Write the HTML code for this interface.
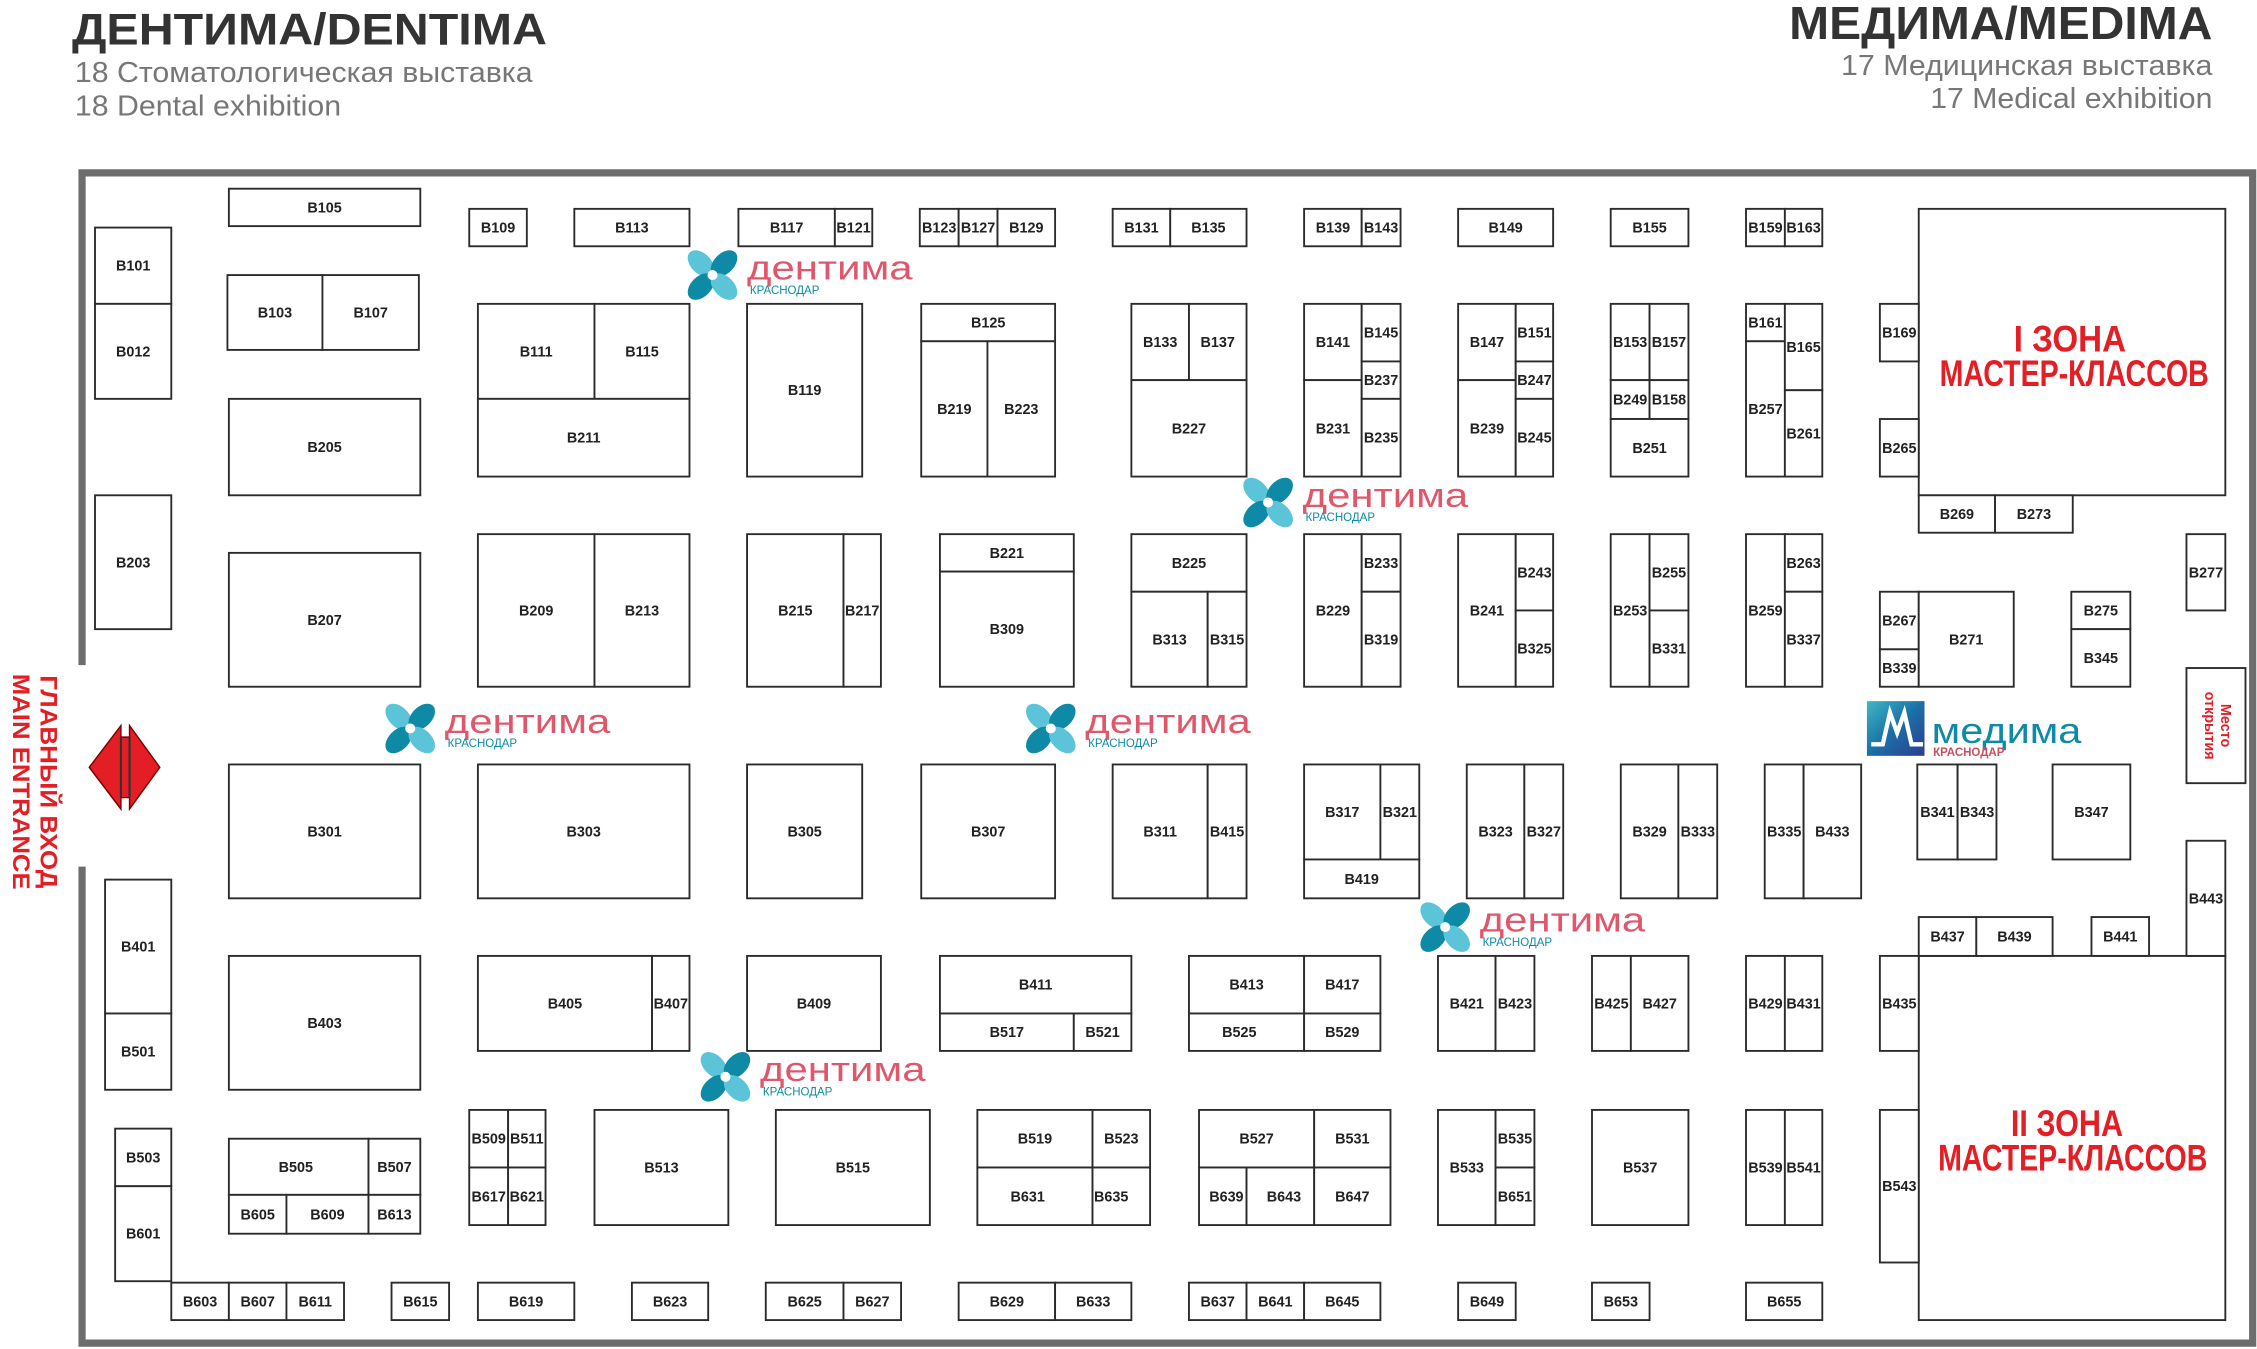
<!DOCTYPE html>
<html><head><meta charset="utf-8">
<style>
html,body{margin:0;padding:0;background:#fff;}
svg{display:block;}
.c rect{fill:#fff;stroke:#2b2b2b;stroke-width:1.3;}
.c text{font-family:"Liberation Sans",sans-serif;font-size:10px;font-weight:bold;fill:#222;text-anchor:middle;}
</style></head><body>
<svg width="2257" height="1349" viewBox="0 0 1568 937" xmlns="http://www.w3.org/2000/svg">
<defs>
<g id="fl">
<ellipse cx="-8" cy="-8" rx="7" ry="11" transform="rotate(-45 -8 -8)" fill="#5bc4d9"/>
<ellipse cx="8" cy="-8" rx="7" ry="11" transform="rotate(45 8 -8)" fill="#0e8aa6"/>
<ellipse cx="-8" cy="8" rx="7" ry="11" transform="rotate(45 -8 8)" fill="#0e8aa6"/>
<ellipse cx="8" cy="8" rx="7" ry="11" transform="rotate(-45 8 8)" fill="#5bc4d9"/>
<circle cx="0" cy="0" r="3.5" fill="#fff"/>
</g>
</defs>
<text x="50" y="31" font-family="Liberation Sans,sans-serif" font-size="31" font-weight="bold" fill="#333" textLength="330" lengthAdjust="spacingAndGlyphs">ДЕНТИМА/DENTIMA</text>
<text x="52" y="57" font-family="Liberation Sans,sans-serif" font-size="20" fill="#777" textLength="318" lengthAdjust="spacingAndGlyphs">18 Стоматологическая выставка</text>
<text x="52" y="80" font-family="Liberation Sans,sans-serif" font-size="20" fill="#777" textLength="185" lengthAdjust="spacingAndGlyphs">18 Dental exhibition</text>
<text x="1537" y="27" font-family="Liberation Sans,sans-serif" font-size="32" font-weight="bold" fill="#333" text-anchor="end" textLength="294" lengthAdjust="spacingAndGlyphs">МЕДИМА/MEDIMA</text>
<text x="1537" y="52" font-family="Liberation Sans,sans-serif" font-size="20" fill="#777" text-anchor="end" textLength="258" lengthAdjust="spacingAndGlyphs">17 Медицинская выставка</text>
<text x="1537" y="75" font-family="Liberation Sans,sans-serif" font-size="20" fill="#777" text-anchor="end" textLength="196" lengthAdjust="spacingAndGlyphs">17 Medical exhibition</text>

<path d="M57 462 V120 H1565 V933 H57 V602" fill="none" stroke="#6d6d6d" stroke-width="5"/>

<polygon points="62,533 84,504 84,512 90,512 90,504 111,533 90,562 90,554 84,554 84,562" fill="#e31e24" stroke="#7a0000" stroke-width="1"/>
<line x1="84" y1="512" x2="84" y2="554" stroke="#333" stroke-width="1.5"/>
<line x1="90" y1="512" x2="90" y2="554" stroke="#333" stroke-width="1.5"/>
<text transform="translate(28,543) rotate(90)" font-family="Liberation Sans,sans-serif" font-size="17" font-weight="bold" fill="#e31e24" text-anchor="middle" textLength="148" lengthAdjust="spacingAndGlyphs">ГЛАВНЫЙ ВХОД</text>
<text transform="translate(9,543) rotate(90)" font-family="Liberation Sans,sans-serif" font-size="17" font-weight="bold" fill="#e31e24" text-anchor="middle" textLength="150" lengthAdjust="spacingAndGlyphs">MAIN ENTRANCE</text>

<g class="c">
<rect x="1333" y="145" width="213" height="199"/>
<rect x="1333" y="664" width="213" height="253"/>
<rect x="1519" y="464" width="41" height="80"/>
</g>
<g font-family="Liberation Sans,sans-serif" font-weight="bold" fill="#e31e24" text-anchor="middle">
<text x="1438" y="244" font-size="26" textLength="78" lengthAdjust="spacingAndGlyphs">I  ЗОНА</text>
<text x="1441" y="268" font-size="26" textLength="187" lengthAdjust="spacingAndGlyphs">МАСТЕР-КЛАССОВ</text>
<text x="1436" y="789" font-size="26" textLength="78" lengthAdjust="spacingAndGlyphs">II  ЗОНА</text>
<text x="1440" y="813" font-size="26" textLength="187" lengthAdjust="spacingAndGlyphs">МАСТЕР-КЛАССОВ</text>
<text transform="translate(1543,504) rotate(90)" font-size="10">Место</text>
<text transform="translate(1532,504) rotate(90)" font-size="10">открытия</text>
</g>

<g class="c">
<rect x="159" y="131" width="133" height="26"/><text x="225.5" y="147.5">B105</text>
<rect x="326" y="145" width="40" height="26"/><text x="346" y="161.5">B109</text>
<rect x="399" y="145" width="80" height="26"/><text x="439" y="161.5">B113</text>
<rect x="513" y="145" width="67" height="26"/><text x="546.5" y="161.5">B117</text>
<rect x="580" y="145" width="26" height="26"/><text x="593" y="161.5">B121</text>
<rect x="639" y="145" width="27" height="26"/><text x="652.5" y="161.5">B123</text>
<rect x="666" y="145" width="27" height="26"/><text x="679.5" y="161.5">B127</text>
<rect x="693" y="145" width="40" height="26"/><text x="713" y="161.5">B129</text>
<rect x="773" y="145" width="40" height="26"/><text x="793" y="161.5">B131</text>
<rect x="813" y="145" width="53" height="26"/><text x="839.5" y="161.5">B135</text>
<rect x="906" y="145" width="40" height="26"/><text x="926" y="161.5">B139</text>
<rect x="946" y="145" width="27" height="26"/><text x="959.5" y="161.5">B143</text>
<rect x="1013" y="145" width="66" height="26"/><text x="1046" y="161.5">B149</text>
<rect x="1119" y="145" width="54" height="26"/><text x="1146" y="161.5">B155</text>
<rect x="1213" y="145" width="27" height="26"/><text x="1226.5" y="161.5">B159</text>
<rect x="1240" y="145" width="26" height="26"/><text x="1253" y="161.5">B163</text>
<rect x="66" y="158" width="53" height="53"/><text x="92.5" y="188">B101</text>
<rect x="66" y="211" width="53" height="66"/><text x="92.5" y="247.5">B012</text>
<rect x="158" y="191" width="66" height="52"/><text x="191" y="220.5">B103</text>
<rect x="224" y="191" width="67" height="52"/><text x="257.5" y="220.5">B107</text>
<rect x="332" y="211" width="81" height="66"/><text x="372.5" y="247.5">B111</text>
<rect x="413" y="211" width="66" height="66"/><text x="446" y="247.5">B115</text>
<rect x="332" y="277" width="147" height="54"/><text x="405.5" y="307.5">B211</text>
<rect x="519" y="211" width="80" height="120"/><text x="559" y="274.5">B119</text>
<rect x="640" y="211" width="93" height="26"/><text x="686.5" y="227.5">B125</text>
<rect x="640" y="237" width="46" height="94"/><text x="663" y="287.5">B219</text>
<rect x="686" y="237" width="47" height="94"/><text x="709.5" y="287.5">B223</text>
<rect x="786" y="211" width="40" height="53"/><text x="806" y="241">B133</text>
<rect x="826" y="211" width="40" height="53"/><text x="846" y="241">B137</text>
<rect x="786" y="264" width="80" height="67"/><text x="826" y="301">B227</text>
<rect x="906" y="211" width="40" height="53"/><text x="926" y="241">B141</text>
<rect x="906" y="264" width="40" height="67"/><text x="926" y="301">B231</text>
<rect x="946" y="211" width="27" height="40"/><text x="959.5" y="234.5">B145</text>
<rect x="946" y="251" width="27" height="26"/><text x="959.5" y="267.5">B237</text>
<rect x="946" y="277" width="27" height="54"/><text x="959.5" y="307.5">B235</text>
<rect x="1013" y="211" width="40" height="53"/><text x="1033" y="241">B147</text>
<rect x="1013" y="264" width="40" height="67"/><text x="1033" y="301">B239</text>
<rect x="1053" y="211" width="26" height="40"/><text x="1066" y="234.5">B151</text>
<rect x="1053" y="251" width="26" height="26"/><text x="1066" y="267.5">B247</text>
<rect x="1053" y="277" width="26" height="54"/><text x="1066" y="307.5">B245</text>
<rect x="1119" y="211" width="27" height="53"/><text x="1132.5" y="241">B153</text>
<rect x="1146" y="211" width="27" height="53"/><text x="1159.5" y="241">B157</text>
<rect x="1119" y="264" width="27" height="27"/><text x="1132.5" y="281">B249</text>
<rect x="1146" y="264" width="27" height="27"/><text x="1159.5" y="281">B158</text>
<rect x="1119" y="291" width="54" height="40"/><text x="1146" y="314.5">B251</text>
<rect x="1213" y="211" width="27" height="26"/><text x="1226.5" y="227.5">B161</text>
<rect x="1213" y="237" width="27" height="94"/><text x="1226.5" y="287.5">B257</text>
<rect x="1240" y="211" width="26" height="60"/><text x="1253" y="244.5">B165</text>
<rect x="1240" y="271" width="26" height="60"/><text x="1253" y="304.5">B261</text>
<rect x="1306" y="211" width="27" height="40"/><text x="1319.5" y="234.5">B169</text>
<rect x="1306" y="291" width="27" height="40"/><text x="1319.5" y="314.5">B265</text>
<rect x="1333" y="344" width="53" height="26"/><text x="1359.5" y="360.5">B269</text>
<rect x="1386" y="344" width="54" height="26"/><text x="1413" y="360.5">B273</text>
<rect x="1519" y="371" width="27" height="53"/><text x="1532.5" y="401">B277</text>
<rect x="159" y="277" width="133" height="67"/><text x="225.5" y="314">B205</text>
<rect x="66" y="344" width="53" height="93"/><text x="92.5" y="394">B203</text>
<rect x="159" y="384" width="133" height="93"/><text x="225.5" y="434">B207</text>
<rect x="332" y="371" width="81" height="106"/><text x="372.5" y="427.5">B209</text>
<rect x="413" y="371" width="66" height="106"/><text x="446" y="427.5">B213</text>
<rect x="519" y="371" width="67" height="106"/><text x="552.5" y="427.5">B215</text>
<rect x="586" y="371" width="26" height="106"/><text x="599" y="427.5">B217</text>
<rect x="653" y="371" width="93" height="26"/><text x="699.5" y="387.5">B221</text>
<rect x="653" y="397" width="93" height="80"/><text x="699.5" y="440.5">B309</text>
<rect x="786" y="371" width="80" height="40"/><text x="826" y="394.5">B225</text>
<rect x="786" y="411" width="53" height="66"/><text x="812.5" y="447.5">B313</text>
<rect x="839" y="411" width="27" height="66"/><text x="852.5" y="447.5">B315</text>
<rect x="906" y="371" width="40" height="106"/><text x="926" y="427.5">B229</text>
<rect x="946" y="371" width="27" height="40"/><text x="959.5" y="394.5">B233</text>
<rect x="946" y="411" width="27" height="66"/><text x="959.5" y="447.5">B319</text>
<rect x="1013" y="371" width="40" height="106"/><text x="1033" y="427.5">B241</text>
<rect x="1053" y="371" width="26" height="53"/><text x="1066" y="401">B243</text>
<rect x="1053" y="424" width="26" height="53"/><text x="1066" y="454">B325</text>
<rect x="1119" y="371" width="27" height="106"/><text x="1132.5" y="427.5">B253</text>
<rect x="1146" y="371" width="27" height="53"/><text x="1159.5" y="401">B255</text>
<rect x="1146" y="424" width="27" height="53"/><text x="1159.5" y="454">B331</text>
<rect x="1213" y="371" width="27" height="106"/><text x="1226.5" y="427.5">B259</text>
<rect x="1240" y="371" width="26" height="40"/><text x="1253" y="394.5">B263</text>
<rect x="1240" y="411" width="26" height="66"/><text x="1253" y="447.5">B337</text>
<rect x="1306" y="411" width="27" height="40"/><text x="1319.5" y="434.5">B267</text>
<rect x="1306" y="451" width="27" height="26"/><text x="1319.5" y="467.5">B339</text>
<rect x="1333" y="411" width="66" height="66"/><text x="1366" y="447.5">B271</text>
<rect x="1439" y="411" width="41" height="26"/><text x="1459.5" y="427.5">B275</text>
<rect x="1439" y="437" width="41" height="40"/><text x="1459.5" y="460.5">B345</text>
<rect x="159" y="531" width="133" height="93"/><text x="225.5" y="581">B301</text>
<rect x="332" y="531" width="147" height="93"/><text x="405.5" y="581">B303</text>
<rect x="519" y="531" width="80" height="93"/><text x="559" y="581">B305</text>
<rect x="640" y="531" width="93" height="93"/><text x="686.5" y="581">B307</text>
<rect x="773" y="531" width="66" height="93"/><text x="806" y="581">B311</text>
<rect x="839" y="531" width="27" height="93"/><text x="852.5" y="581">B415</text>
<rect x="906" y="531" width="53" height="66"/><text x="932.5" y="567.5">B317</text>
<rect x="959" y="531" width="27" height="66"/><text x="972.5" y="567.5">B321</text>
<rect x="906" y="597" width="80" height="27"/><text x="946" y="614">B419</text>
<rect x="1019" y="531" width="40" height="93"/><text x="1039" y="581">B323</text>
<rect x="1059" y="531" width="27" height="93"/><text x="1072.5" y="581">B327</text>
<rect x="1126" y="531" width="40" height="93"/><text x="1146" y="581">B329</text>
<rect x="1166" y="531" width="27" height="93"/><text x="1179.5" y="581">B333</text>
<rect x="1226" y="531" width="27" height="93"/><text x="1239.5" y="581">B335</text>
<rect x="1253" y="531" width="40" height="93"/><text x="1273" y="581">B433</text>
<rect x="1332" y="531" width="28" height="66"/><text x="1346" y="567.5">B341</text>
<rect x="1360" y="531" width="27" height="66"/><text x="1373.5" y="567.5">B343</text>
<rect x="1426" y="531" width="54" height="66"/><text x="1453" y="567.5">B347</text>
<rect x="1519" y="584" width="27" height="80"/><text x="1532.5" y="627.5">B443</text>
<rect x="1333" y="637" width="40" height="27"/><text x="1353" y="654">B437</text>
<rect x="1373" y="637" width="53" height="27"/><text x="1399.5" y="654">B439</text>
<rect x="1453" y="637" width="40" height="27"/><text x="1473" y="654">B441</text>
<rect x="1306" y="664" width="27" height="66"/><text x="1319.5" y="700.5">B435</text>
<rect x="1306" y="771" width="27" height="106"/><text x="1319.5" y="827.5">B543</text>
<rect x="73" y="611" width="46" height="93"/><text x="96" y="661">B401</text>
<rect x="73" y="704" width="46" height="53"/><text x="96" y="734">B501</text>
<rect x="159" y="664" width="133" height="93"/><text x="225.5" y="714">B403</text>
<rect x="332" y="664" width="121" height="66"/><text x="392.5" y="700.5">B405</text>
<rect x="453" y="664" width="26" height="66"/><text x="466" y="700.5">B407</text>
<rect x="519" y="664" width="93" height="66"/><text x="565.5" y="700.5">B409</text>
<rect x="653" y="664" width="133" height="40"/><text x="719.5" y="687.5">B411</text>
<rect x="653" y="704" width="93" height="26"/><text x="699.5" y="720.5">B517</text>
<rect x="746" y="704" width="40" height="26"/><text x="766" y="720.5">B521</text>
<rect x="826" y="664" width="80" height="40"/><text x="866" y="687.5">B413</text>
<rect x="906" y="664" width="53" height="40"/><text x="932.5" y="687.5">B417</text>
<rect x="826" y="704" width="80" height="26"/><text x="861" y="720.5">B525</text>
<rect x="906" y="704" width="53" height="26"/><text x="932.5" y="720.5">B529</text>
<rect x="999" y="664" width="40" height="66"/><text x="1019" y="700.5">B421</text>
<rect x="1039" y="664" width="27" height="66"/><text x="1052.5" y="700.5">B423</text>
<rect x="1106" y="664" width="27" height="66"/><text x="1119.5" y="700.5">B425</text>
<rect x="1133" y="664" width="40" height="66"/><text x="1153" y="700.5">B427</text>
<rect x="1213" y="664" width="27" height="66"/><text x="1226.5" y="700.5">B429</text>
<rect x="1240" y="664" width="26" height="66"/><text x="1253" y="700.5">B431</text>
<rect x="80" y="784" width="39" height="40"/><text x="99.5" y="807.5">B503</text>
<rect x="80" y="824" width="39" height="66"/><text x="99.5" y="860.5">B601</text>
<rect x="159" y="791" width="97" height="39"/><text x="205.5" y="814">B505</text>
<rect x="256" y="791" width="36" height="39"/><text x="274" y="814">B507</text>
<rect x="159" y="830" width="40" height="27"/><text x="179" y="847">B605</text>
<rect x="199" y="830" width="57" height="27"/><text x="227.5" y="847">B609</text>
<rect x="256" y="830" width="36" height="27"/><text x="274" y="847">B613</text>
<rect x="326" y="771" width="27" height="40"/><text x="339.5" y="794.5">B509</text>
<rect x="353" y="771" width="26" height="40"/><text x="366" y="794.5">B511</text>
<rect x="326" y="811" width="27" height="40"/><text x="339.5" y="834.5">B617</text>
<rect x="353" y="811" width="26" height="40"/><text x="366" y="834.5">B621</text>
<rect x="413" y="771" width="93" height="80"/><text x="459.5" y="814.5">B513</text>
<rect x="539" y="771" width="107" height="80"/><text x="592.5" y="814.5">B515</text>
<rect x="679" y="771" width="80" height="40"/><text x="719" y="794.5">B519</text>
<rect x="759" y="771" width="40" height="40"/><text x="779" y="794.5">B523</text>
<rect x="679" y="811" width="80" height="40"/><text x="714" y="834.5">B631</text>
<rect x="759" y="811" width="40" height="40"/><text x="772" y="834.5">B635</text>
<rect x="833" y="771" width="80" height="40"/><text x="873" y="794.5">B527</text>
<rect x="913" y="771" width="53" height="40"/><text x="939.5" y="794.5">B531</text>
<rect x="833" y="811" width="33" height="40"/><text x="852" y="834.5">B639</text>
<rect x="866" y="811" width="47" height="40"/><text x="892" y="834.5">B643</text>
<rect x="913" y="811" width="53" height="40"/><text x="939.5" y="834.5">B647</text>
<rect x="999" y="771" width="40" height="80"/><text x="1019" y="814.5">B533</text>
<rect x="1039" y="771" width="27" height="40"/><text x="1052.5" y="794.5">B535</text>
<rect x="1039" y="811" width="27" height="40"/><text x="1052.5" y="834.5">B651</text>
<rect x="1106" y="771" width="67" height="80"/><text x="1139.5" y="814.5">B537</text>
<rect x="1213" y="771" width="27" height="80"/><text x="1226.5" y="814.5">B539</text>
<rect x="1240" y="771" width="26" height="80"/><text x="1253" y="814.5">B541</text>
<rect x="119" y="891" width="40" height="26"/><text x="139" y="907.5">B603</text>
<rect x="159" y="891" width="40" height="26"/><text x="179" y="907.5">B607</text>
<rect x="199" y="891" width="40" height="26"/><text x="219" y="907.5">B611</text>
<rect x="272" y="891" width="40" height="26"/><text x="292" y="907.5">B615</text>
<rect x="332" y="891" width="67" height="26"/><text x="365.5" y="907.5">B619</text>
<rect x="439" y="891" width="53" height="26"/><text x="465.5" y="907.5">B623</text>
<rect x="532" y="891" width="54" height="26"/><text x="559" y="907.5">B625</text>
<rect x="586" y="891" width="40" height="26"/><text x="606" y="907.5">B627</text>
<rect x="666" y="891" width="67" height="26"/><text x="699.5" y="907.5">B629</text>
<rect x="733" y="891" width="53" height="26"/><text x="759.5" y="907.5">B633</text>
<rect x="826" y="891" width="40" height="26"/><text x="846" y="907.5">B637</text>
<rect x="866" y="891" width="40" height="26"/><text x="886" y="907.5">B641</text>
<rect x="906" y="891" width="53" height="26"/><text x="932.5" y="907.5">B645</text>
<rect x="1013" y="891" width="40" height="26"/><text x="1033" y="907.5">B649</text>
<rect x="1106" y="891" width="40" height="26"/><text x="1126" y="907.5">B653</text>
<rect x="1213" y="891" width="53" height="26"/><text x="1239.5" y="907.5">B655</text>
</g>

<g font-family="Liberation Sans,sans-serif">
<g transform="translate(475,172)"><use href="#fl" x="20" y="19"/><text x="44" y="22" font-size="24" fill="#e0566a" textLength="115" lengthAdjust="spacingAndGlyphs">дентима</text><text x="46" y="32" font-size="8" fill="#0e8aa6">КРАСНОДАР</text></g>
<g transform="translate(861,330)"><use href="#fl" x="20" y="19"/><text x="44" y="22" font-size="24" fill="#e0566a" textLength="115" lengthAdjust="spacingAndGlyphs">дентима</text><text x="46" y="32" font-size="8" fill="#0e8aa6">КРАСНОДАР</text></g>
<g transform="translate(265,487)"><use href="#fl" x="20" y="19"/><text x="44" y="22" font-size="24" fill="#e0566a" textLength="115" lengthAdjust="spacingAndGlyphs">дентима</text><text x="46" y="32" font-size="8" fill="#0e8aa6">КРАСНОДАР</text></g>
<g transform="translate(710,487)"><use href="#fl" x="20" y="19"/><text x="44" y="22" font-size="24" fill="#e0566a" textLength="115" lengthAdjust="spacingAndGlyphs">дентима</text><text x="46" y="32" font-size="8" fill="#0e8aa6">КРАСНОДАР</text></g>
<g transform="translate(984,625)"><use href="#fl" x="20" y="19"/><text x="44" y="22" font-size="24" fill="#e0566a" textLength="115" lengthAdjust="spacingAndGlyphs">дентима</text><text x="46" y="32" font-size="8" fill="#0e8aa6">КРАСНОДАР</text></g>
<g transform="translate(484,729)"><use href="#fl" x="20" y="19"/><text x="44" y="22" font-size="24" fill="#e0566a" textLength="115" lengthAdjust="spacingAndGlyphs">дентима</text><text x="46" y="32" font-size="8" fill="#0e8aa6">КРАСНОДАР</text></g>
<g transform="translate(1297,487)">
<defs><linearGradient id="mg" x1="0" y1="0" x2="1" y2="1"><stop offset="0" stop-color="#3fb8c4"/><stop offset="0.5" stop-color="#1a6fa8"/><stop offset="1" stop-color="#2d3d8f"/></linearGradient></defs>
<rect x="0" y="0" width="40" height="38" fill="url(#mg)"/>
<polyline points="3,30 11,30 16,8 21,22 26,8 31,30 39,30" fill="none" stroke="#fff" stroke-width="3"/>
<text x="45" y="29" font-size="25" fill="#0e8aa6" textLength="104" lengthAdjust="spacingAndGlyphs">медима</text>
<text x="46" y="38" font-size="8" font-weight="bold" fill="#c8505e">КРАСНОДАР</text>
</g>
</g>
</svg>
</body></html>
